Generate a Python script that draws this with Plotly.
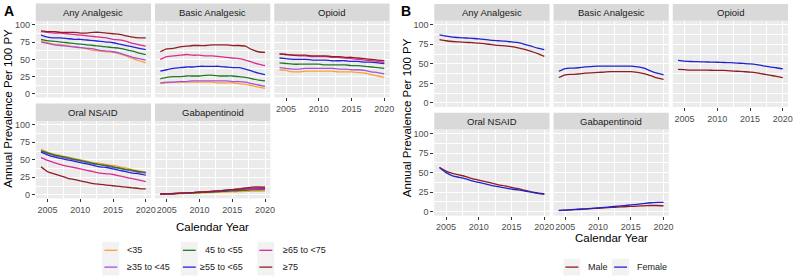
import plotly.graph_objects as go

# ---------------- data ----------------
years = list(range(2004, 2021))
panels = ["Any Analgesic", "Basic Analgesic", "Opioid", "Oral NSAID", "Gabapentinoid"]

age_groups = ["<35", "≥35 to <45", "45 to <55", "≥55 to <65", "≥65 to <75", "≥75"]
age_colors = ["#F8A431", "#A94FD8", "#23782A", "#2424D8", "#DE2A92", "#8E2024"]

sexes = ["Male", "Female"]
sex_colors = ["#8E1C22", "#2222CC"]

# Panel A: prevalence by age group (rows follow age_groups order)
any_analgesic_age = [
    [77, 74, 72, 71, 70, 68, 67, 65, 63, 62, 61, 60, 58, 55, 51, 48, 45],
    [75, 73, 71, 70, 69, 68, 67, 66, 65, 63, 62, 61, 59, 56, 53, 51, 49],
    [79, 77, 76, 75, 74, 73, 72, 71, 70, 69, 68, 67, 66, 64, 62, 59, 57],
    [85, 82, 81, 81, 80, 79, 79, 78, 77, 76, 75, 74, 72, 70, 68, 66, 64],
    [90, 89, 88, 88, 87, 86, 85, 84, 83, 82, 81, 79, 78, 76, 73, 71, 69],
    [91, 90, 90, 89, 89, 89, 88, 88, 89, 89, 88, 87, 86, 84, 82, 81, 81],
]
basic_analgesic_age = [
    [15, 16, 17, 17, 17, 17, 17, 17, 17, 16, 16, 16, 15, 14, 12, 10, 8],
    [16, 17, 17, 18, 18, 19, 19, 19, 19, 19, 19, 18, 18, 17, 15, 13, 11],
    [22, 24, 25, 25, 26, 26, 26, 27, 27, 26, 26, 26, 25, 24, 22, 20, 19],
    [33, 35, 37, 38, 39, 39, 40, 40, 40, 40, 39, 38, 38, 36, 33, 30, 28],
    [50, 54, 55, 56, 57, 56, 56, 55, 55, 54, 53, 52, 51, 49, 46, 43, 41],
    [61, 65, 66, 68, 69, 70, 70, 70, 71, 71, 71, 70, 70, 69, 64, 61, 60],
]
opioid_age = [
    [35, 34, 32, 32, 33, 33, 33, 33, 33, 32, 32, 32, 31, 30, 28, 26, 24],
    [38, 37, 36, 36, 37, 37, 37, 37, 37, 36, 36, 35, 35, 34, 32, 31, 29],
    [45, 44, 43, 43, 43, 43, 43, 42, 42, 42, 42, 41, 41, 40, 39, 38, 37],
    [52, 51, 50, 50, 50, 49, 49, 49, 48, 48, 48, 47, 47, 46, 46, 45, 44],
    [58, 57, 56, 55, 55, 54, 54, 54, 53, 53, 52, 51, 50, 49, 48, 47, 45],
    [58, 57, 56, 56, 56, 55, 55, 55, 54, 54, 53, 53, 52, 51, 50, 49, 48],
]
oral_nsaid_age = [
    [65, 61, 58, 56, 54, 52, 50, 48, 46, 45, 43, 42, 40, 38, 36, 34, 32],
    [62, 59, 56, 54, 52, 50, 48, 46, 44, 43, 41, 39, 38, 36, 34, 32, 31],
    [63, 60, 57, 55, 53, 51, 49, 47, 45, 43, 42, 40, 38, 36, 35, 33, 32],
    [61, 57, 54, 52, 50, 48, 46, 44, 42, 40, 39, 37, 35, 33, 31, 30, 28],
    [53, 49, 46, 43, 41, 39, 37, 35, 33, 31, 30, 29, 27, 25, 23, 21, 19],
    [40, 33, 30, 27, 24, 22, 20, 18, 16, 15, 14, 13, 12, 11, 10, 9, 8.5],
]
gabapentinoid_age = [
    [1.0, 1.2, 1.5, 1.8, 2.0, 2.3, 2.6, 3.0, 3.3, 3.6, 4.0, 4.3, 4.6, 5.0, 5.2, 5.4, 5.5],
    [1.0, 1.3, 1.7, 2.1, 2.6, 3.1, 3.7, 4.3, 5.0, 5.8, 6.6, 7.4, 8.2, 9.1, 9.8, 10.2, 10.4],
    [1.0, 1.3, 1.6, 2.0, 2.4, 2.8, 3.2, 3.6, 4.1, 4.6, 5.1, 5.6, 6.1, 6.6, 7.0, 7.3, 7.5],
    [1.0, 1.4, 1.8, 2.2, 2.7, 3.2, 3.7, 4.3, 4.9, 5.5, 6.2, 6.9, 7.6, 8.2, 8.7, 9.0, 9.2],
    [1.0, 1.4, 1.8, 2.3, 2.8, 3.3, 3.9, 4.5, 5.1, 5.8, 6.5, 7.2, 7.8, 8.3, 8.5, 8.4, 8.2],
    [1.2, 1.5, 1.9, 2.3, 2.8, 3.3, 3.8, 4.4, 5.0, 5.7, 6.5, 7.5, 8.5, 9.8, 11.0, 11.3, 11.0],
]

# Panel B: prevalence by sex (rows follow sexes order)
any_analgesic_sex = [
    [81, 79.5, 78.5, 78, 77.5, 77, 76.5, 75.5, 74.5, 73.5, 73, 72, 70.5, 68.5, 66, 63, 59.5],
    [87, 85.5, 84, 83.5, 83, 82.5, 82, 81, 80, 79.5, 79, 78, 77, 75, 72.5, 70, 68],
]
basic_analgesic_sex = [
    [32.5, 36, 36.5, 37, 38, 38.5, 39, 39.5, 40, 40, 40, 40, 39, 37.5, 35, 32, 30],
    [40.5, 44, 44.5, 45, 46, 46.5, 47, 47, 47, 47, 47, 47, 46, 44.5, 41, 38, 36],
]
opioid_sex = [
    [43, 42.5, 42, 42, 42, 41.8, 41.7, 41.5, 41, 40.5, 40, 39.5, 38.5, 37, 35.5, 34, 32.5],
    [54.5, 53.5, 53, 52.7, 52.5, 52.2, 52, 51.7, 51.5, 51, 50.5, 50, 49, 47.5, 46, 45, 43.5],
]
oral_nsaid_sex = [
    [56.5, 52, 49, 47, 45, 42.5, 40.5, 38.5, 36.5, 34.5, 33, 31, 29.5, 27.5, 25.5, 24, 22.8],
    [56.5, 50, 46, 44, 42, 39.5, 37.5, 35.5, 33.5, 32, 30.5, 29, 28, 26.5, 25, 23.5, 22.4],
]
gabapentinoid_sex = [
    [1.5, 2.0, 2.4, 2.9, 3.4, 3.9, 4.5, 5.0, 5.5, 6.0, 6.4, 6.8, 7.2, 7.6, 8.0, 8.0, 7.7],
    [1.7, 2.2, 2.7, 3.2, 3.8, 4.4, 5.0, 5.7, 6.4, 7.1, 7.9, 8.7, 9.5, 10.5, 11.5, 12.0, 12.0],
]

x_ticks = [2005, 2010, 2015, 2020]
y_ticks = [0, 25, 50, 75, 100]
y_title = "Annual Prevalence Per 100 PY"
x_title = "Calendar Year"

panel_data_A = [any_analgesic_age, basic_analgesic_age, opioid_age, oral_nsaid_age, gabapentinoid_age]
panel_data_B = [any_analgesic_sex, basic_analgesic_sex, opioid_sex, oral_nsaid_sex, gabapentinoid_sex]

# ---------------- layout helpers ----------------
W, H = 800, 280
FONT = "Liberation Sans, Arial, sans-serif"


def px(x):
    return x / W


def py(y):
    return 1 - y / H


fig = go.Figure()
layout = dict(
    width=W, height=H, margin=dict(l=0, r=0, t=0, b=0),
    paper_bgcolor="white", plot_bgcolor="#EBEBEB",
    showlegend=False, font=dict(family=FONT, color="#1A1A1A"),
)
shapes, annotations = [], []

blocks = [
    dict(cols=[(36, 152), (156, 272), (276, 392)],
         rows=[((2.5, 20.5), (20.5, 97.5)), ((103.5, 121.5), (121.5, 199.5))],
         data=panel_data_A, colors=age_colors, offset=0),
    dict(cols=[(437, 553), (557, 673), (677, 793)],
         rows=[((3, 20), (20, 107)), ((113, 130), (130, 217))],
         data=panel_data_B, colors=sex_colors, offset=5),
]

TICKFONT = dict(size=9, color="#4D4D4D", family=FONT)

for blk in blocks:
    for p, name in enumerate(panels):
        r, c = divmod(p, 3)
        n = p + 1 + blk["offset"]
        (sx0, sx1) = blk["cols"][c]
        (st, sb), (pt, pb) = blk["rows"][r]
        show_x = (r == 1) or (c == 2)
        show_y = (c == 0)
        layout[f"xaxis{n}"] = dict(
            domain=[px(sx0), px(sx1)], anchor=f"y{n}", range=[2003.2, 2020.8],
            tickmode="array", tickvals=x_ticks, showticklabels=show_x,
            ticks="outside" if show_x else "", ticklen=3, tickwidth=1, tickcolor="#333333",
            tickfont=TICKFONT,
            showgrid=True, gridcolor="white", gridwidth=1, zeroline=False, showline=False,
            minor=dict(tickmode="array", tickvals=[2007.5, 2012.5, 2017.5],
                       showgrid=True, gridcolor="white", gridwidth=0.5),
            fixedrange=True,
        )
        layout[f"yaxis{n}"] = dict(
            domain=[py(pb), py(pt)], anchor=f"x{n}", range=[-5, 105],
            tickmode="array", tickvals=y_ticks, showticklabels=show_y,
            ticks="outside" if show_y else "", ticklen=3, tickwidth=1, tickcolor="#333333",
            tickfont=TICKFONT,
            showgrid=True, gridcolor="white", gridwidth=1, zeroline=False, showline=False,
            minor=dict(tickmode="array", tickvals=[12.5, 37.5, 62.5, 87.5],
                       showgrid=True, gridcolor="white", gridwidth=0.5),
            fixedrange=True,
        )
        # strip
        shapes.append(dict(type="rect", xref="paper", yref="paper",
                           x0=px(sx0), x1=px(sx1), y0=py(sb), y1=py(st),
                           fillcolor="#D9D9D9", line=dict(width=0), layer="below"))
        annotations.append(dict(text=name, xref="paper", yref="paper",
                                x=px((sx0 + sx1) / 2), y=py((st + sb) / 2),
                                xanchor="center", yanchor="middle", showarrow=False,
                                font=dict(size=9.5, color="#1A1A1A", family=FONT)))
        for series, color in zip(blk["data"][p], blk["colors"]):
            fig.add_trace(go.Scatter(
                x=years, y=series, mode="lines",
                line=dict(color=color, width=1.3, shape="spline", smoothing=0.6),
                xaxis=f"x{n}", yaxis=f"y{n}", showlegend=False, hoverinfo="skip"))

# panel letters
annotations.append(dict(text="<b>A</b>", xref="paper", yref="paper", x=px(2), y=py(10),
                        xanchor="left", yanchor="middle", showarrow=False,
                        font=dict(size=14, color="black", family=FONT)))
annotations.append(dict(text="<b>B</b>", xref="paper", yref="paper", x=px(402), y=py(10),
                        xanchor="left", yanchor="middle", showarrow=False,
                        font=dict(size=14, color="black", family=FONT)))

# axis titles
annotations.append(dict(text=y_title, xref="paper", yref="paper", x=px(8), y=py(108),
                        textangle=-90, xanchor="center", yanchor="middle", showarrow=False,
                        font=dict(size=11.5, color="black", family=FONT)))
annotations.append(dict(text=y_title, xref="paper", yref="paper", x=px(409), y=py(118),
                        textangle=-90, xanchor="center", yanchor="middle", showarrow=False,
                        font=dict(size=11.5, color="black", family=FONT)))
annotations.append(dict(text=x_title, xref="paper", yref="paper", x=px(214), y=py(228),
                        xanchor="center", yanchor="middle", showarrow=False,
                        font=dict(size=11.5, color="black", family=FONT)))
annotations.append(dict(text=x_title, xref="paper", yref="paper", x=px(615), y=py(240),
                        xanchor="center", yanchor="middle", showarrow=False,
                        font=dict(size=11.5, color="black", family=FONT)))


# legends (drawn manually, ggplot-style keys)
def legend_key(x0, yc, color):
    shapes.append(dict(type="rect", xref="paper", yref="paper",
                       x0=px(x0), x1=px(x0 + 17), y0=py(yc + 8.5), y1=py(yc - 8.5),
                       fillcolor="#F2F2F2", line=dict(width=0)))
    shapes.append(dict(type="line", xref="paper", yref="paper",
                       x0=px(x0 + 2), x1=px(x0 + 15), y0=py(yc), y1=py(yc),
                       line=dict(color=color, width=1.3)))


def legend_text(x, yc, text, anchor="left"):
    annotations.append(dict(text=text, xref="paper", yref="paper", x=px(x), y=py(yc),
                            xanchor=anchor, yanchor="middle", showarrow=False,
                            font=dict(size=9, color="#1A1A1A", family=FONT)))


leg_cols_A = [(103, 126, "left"), (182, 247, "right"), (259, 283, "left")]
leg_rows_A = [252, 269]
for i, (lab, col) in enumerate(zip(age_groups, age_colors)):
    c, r = divmod(i, 2)
    kx, tx, anc = leg_cols_A[c]
    legend_key(kx, leg_rows_A[r], col)
    legend_text(tx, leg_rows_A[r], lab, anc)

leg_B = [(567, 590), (616, 639)]
for (kx, tx), lab, col in zip(leg_B, sexes, sex_colors):
    legend_key(kx, 269, col)
    legend_text(tx, 269, lab)

layout["shapes"] = shapes
layout["annotations"] = annotations
fig.update_layout(**layout)
fig.write_html("out.html", config={"displayModeBar": False},
               post_script="document.body.style.margin='0';")
